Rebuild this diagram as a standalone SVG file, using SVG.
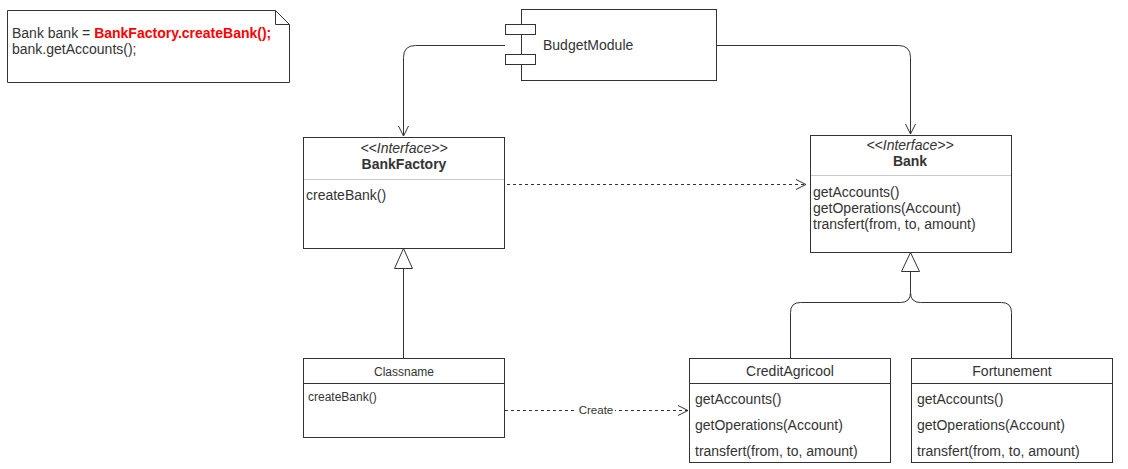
<svg xmlns="http://www.w3.org/2000/svg" width="1128" height="469" viewBox="0 0 1128 469">
<style>
text{font-family:"Liberation Sans",Arial,sans-serif;fill:#333;}
.box{fill:#fff;stroke:#333;stroke-width:1;}
.sep{stroke:#c8c8c8;stroke-width:1;}
.sepd{stroke:#333;stroke-width:1;}
.ln{fill:none;stroke:#333;stroke-width:1;}
.dash{fill:none;stroke:#333;stroke-width:1;stroke-dasharray:3 3;}
.m{font-size:14px;}
.s{font-size:12px;}
</style>
<defs>
<marker id="open" viewBox="0 0 12 12" refX="11" refY="6" markerWidth="12" markerHeight="12" markerUnits="userSpaceOnUse" orient="auto">
<path d="M1,1 L11,6 L1,11" fill="none" stroke="#333" stroke-width="1"/>
</marker>
</defs>
<rect width="1128" height="469" fill="#fff"/>
<g id="note">
<path class="box" d="M7.5,10.5 H275.5 L289.5,24.5 V82.5 H7.5 Z"/>
<path class="ln" d="M275.5,10.5 V24.5 H289.5"/>
<text x="12" y="38" class="m">Bank bank = <tspan style="fill:#f00;font-weight:bold">BankFactory.createBank();</tspan></text>
<text x="12" y="54" class="m">bank.getAccounts();</text>
</g>
<g id="connectors">
<path class="ln" d="M505,45.5 H415.5 Q403.5,45.5 403.5,57.5 V136" marker-end="url(#open)"/>
<path class="ln" d="M716.5,45.5 H898.5 Q910.5,45.5 910.5,57.5 V134" marker-end="url(#open)"/>
<path class="dash" d="M507,184.5 H806" marker-end="url(#open)"/>
<path class="ln" d="M403.5,358 V268"/>
<path class="ln" d="M403.5,248.5 L412.5,268.5 H394.5 Z" style="fill:#fff"/>
<path class="ln" d="M790.5,358 V312.5 Q790.5,302.5 800.5,302.5 H900.5 Q910.5,302.5 910.5,292.5 V271"/>
<path class="ln" d="M1011.5,358 V312.5 Q1011.5,302.5 1001.5,302.5 H920.5 Q910.5,302.5 910.5,292.5"/>
<path class="ln" d="M910.5,252.5 L919.5,271.5 H901.5 Z" style="fill:#fff"/>
<path class="dash" d="M505,410.5 H688" marker-end="url(#open)"/>
<rect x="577" y="403" width="38" height="14" fill="#fff"/>
<text x="596" y="414" font-size="11.5" text-anchor="middle">Create</text>
</g>
<g id="budgetmodule">
<rect class="box" x="521.5" y="9.5" width="195" height="71"/>
<rect class="box" x="505.5" y="24.5" width="30" height="10"/>
<rect class="box" x="505.5" y="54.5" width="30" height="10"/>
<text x="543" y="50" class="m">BudgetModule</text>
</g>
<g id="bankfactory">
<rect class="box" x="303.5" y="137.5" width="201" height="111"/>
<line class="sep" x1="304" y1="179.5" x2="504" y2="179.5"/>
<text x="404" y="153" class="m" font-style="italic" text-anchor="middle">&lt;&lt;Interface&gt;&gt;</text>
<text x="404" y="169" class="m" font-weight="bold" text-anchor="middle">BankFactory</text>
<text x="306" y="200" class="m">createBank()</text>
</g>
<g id="bank">
<rect class="box" x="810.5" y="135.5" width="201" height="117"/>
<line class="sep" x1="811" y1="175.5" x2="1011" y2="175.5"/>
<text x="910" y="150" class="m" font-style="italic" text-anchor="middle">&lt;&lt;Interface&gt;&gt;</text>
<text x="910" y="166" class="m" font-weight="bold" text-anchor="middle">Bank</text>
<text x="813" y="197" class="m">getAccounts()</text>
<text x="813" y="213" class="m">getOperations(Account)</text>
<text x="813" y="229" class="m">transfert(from, to, amount)</text>
</g>
<g id="classname">
<rect class="box" x="303.5" y="358.5" width="201" height="79"/>
<line class="sepd" x1="304" y1="383.5" x2="504" y2="383.5"/>
<text x="404" y="376" class="s" text-anchor="middle">Classname</text>
<text x="308" y="401" class="s">createBank()</text>
</g>
<g id="creditagricool">
<rect class="box" x="689.5" y="358.5" width="201" height="104"/>
<line class="sepd" x1="690" y1="383.5" x2="890" y2="383.5"/>
<text x="790" y="376" class="m" text-anchor="middle">CreditAgricool</text>
<text x="695" y="404" class="m">getAccounts()</text>
<text x="695" y="430" class="m">getOperations(Account)</text>
<text x="695" y="456" class="m">transfert(from, to, amount)</text>
</g>
<g id="fortunement">
<rect class="box" x="911.5" y="358.5" width="201" height="104"/>
<line class="sepd" x1="912" y1="383.5" x2="1112" y2="383.5"/>
<text x="1012" y="376" class="m" text-anchor="middle">Fortunement</text>
<text x="917" y="404" class="m">getAccounts()</text>
<text x="917" y="430" class="m">getOperations(Account)</text>
<text x="917" y="456" class="m">transfert(from, to, amount)</text>
</g>
</svg>
